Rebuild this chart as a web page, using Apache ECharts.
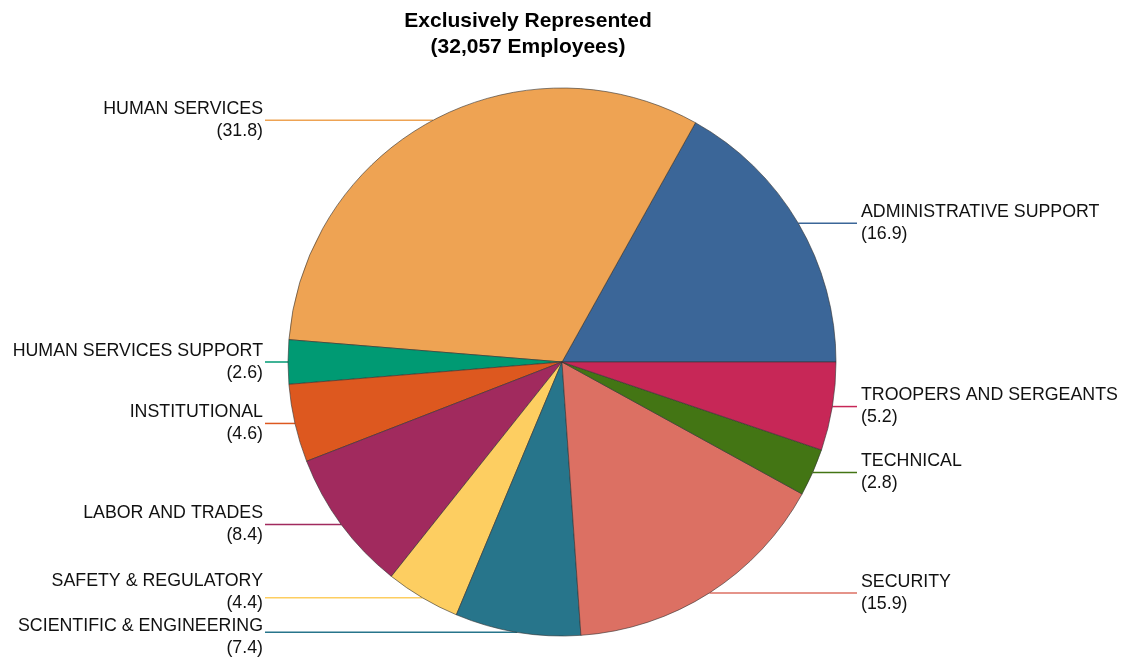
<!DOCTYPE html>
<html>
<head>
<meta charset="utf-8">
<script src="https://cdn.jsdelivr.net/npm/echarts@6/dist/echarts.min.js"></script>
<style>
html,body{margin:0;padding:0;background:#fff;}
#chart{width:1127px;height:665px;}
</style>
</head>
<body>
<div id="chart"></div>
<script>
const titleText = 'Exclusively Represented\n(32,057 Employees)';
const categories = [
  'ADMINISTRATIVE SUPPORT',
  'HUMAN SERVICES',
  'HUMAN SERVICES SUPPORT',
  'INSTITUTIONAL',
  'LABOR AND TRADES',
  'SAFETY & REGULATORY',
  'SCIENTIFIC & ENGINEERING',
  'SECURITY',
  'TECHNICAL',
  'TROOPERS AND SERGEANTS'
];
const values = [16.9, 31.8, 2.6, 4.6, 8.4, 4.4, 7.4, 15.9, 2.8, 5.2];
const colors = ['#3b6698', '#eea353', '#009a73', '#dd581f', '#a12a5e',
                '#fdce61', '#27758b', '#dc7063', '#437514', '#c72757'];

const CX = 562, CY = 362, R = 274, GAP = 25, MIN_SPACING = 45;

// label text y positions: start at the slice's mid-angle height, then spread overlapping ones apart
const total = values.reduce((a, b) => a + b, 0);
const labelInfo = [];
let acc = 0;
values.forEach((v, i) => {
  const mid = (acc + v / 2) / total * 2 * Math.PI;
  acc += v;
  const x = CX + R * Math.cos(mid);
  const y = CY - R * Math.sin(mid);
  labelInfo.push({i, right: x > CX, y, ty: y});
});
[true, false].forEach(side => {
  const arr = labelInfo.filter(d => d.right === side).sort((a, b) => a.y - b.y);
  for (let iter = 0; iter < 20; iter++) {
    let moved = false;
    for (let k = 1; k < arr.length; k++) {
      const gap = arr[k].ty - arr[k - 1].ty;
      if (gap < MIN_SPACING) {
        const push = (MIN_SPACING - gap) / 2;
        arr[k - 1].ty -= push;
        arr[k].ty += push;
        moved = true;
      }
    }
    if (!moved) break;
  }
});
const textY = [];
labelInfo.forEach(d => { textY[d.i] = d.ty; });

const chart = echarts.init(document.getElementById('chart'), null, {renderer: 'canvas'});
chart.setOption({
  animation: false,
  backgroundColor: '#ffffff',
  title: {
    text: titleText,
    left: 528,
    top: 8,
    padding: 0,
    textAlign: 'center',
    textStyle: {
      fontFamily: 'Liberation Sans, Arial, sans-serif',
      fontSize: 21,
      fontWeight: 'bold',
      lineHeight: 26,
      color: '#000'
    }
  },
  series: [{
    type: 'pie',
    center: [CX, CY],
    radius: R,
    startAngle: 0,
    clockwise: false,
    avoidLabelOverlap: false,
    emphasis: {disabled: true},
    itemStyle: {borderColor: '#333', borderWidth: 0.6},
    label: {
      show: true,
      position: 'outer',
      formatter: '{b}\n({c})',
      fontFamily: 'Liberation Sans, Arial, sans-serif',
      fontSize: 17.8,
      lineHeight: 22,
      color: '#111'
    },
    labelLine: {show: true, length: 0, length2: 20, smooth: false, lineStyle: {width: 1.5}},
    labelLayout: function (p) {
      const pts = p.labelLinePoints;
      const x0 = pts[0][0], y0 = pts[0][1];
      const right = x0 > CX;
      const tx = right ? CX + R + GAP : CX - R - GAP;
      return {
        x: tx,
        y: textY[p.dataIndex],
        align: right ? 'left' : 'right',
        verticalAlign: 'middle',
        labelLinePoints: [[x0, y0], [x0, y0], [right ? tx - 4 : tx + 2, y0]]
      };
    },
    data: categories.map((c, i) => ({name: c, value: values[i], itemStyle: {color: colors[i]}}))
  }]
});
</script>
</body>
</html>
